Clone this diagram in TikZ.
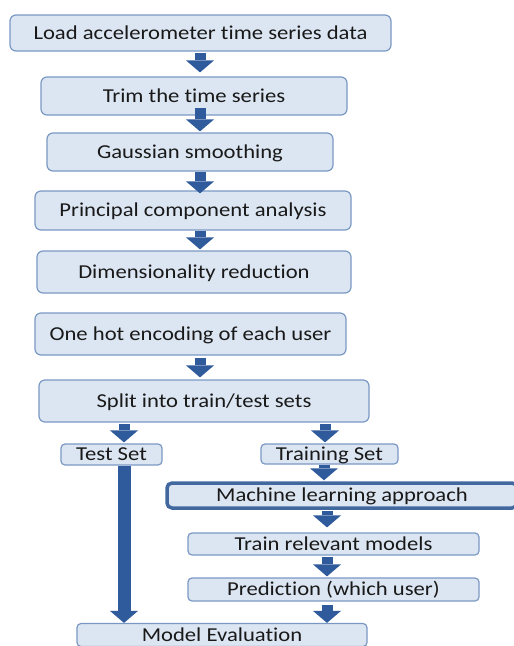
\documentclass[tikz,border=0pt]{standalone}
\usepackage{fontspec}
\setmainfont{Carlito}[FakeStretch=1.15, RawFeature={-liga;-clig;-calt;-dlig}]
\usetikzlibrary{arrows.meta,calc}
\definecolor{boxfill}{HTML}{DCE6F2}
\definecolor{boxline}{HTML}{7A98C4}
\definecolor{flowblue}{HTML}{2F5A9B}
\definecolor{mlline}{HTML}{41699F}
\begin{document}
\begin{tikzpicture}[x=1pt,y=-1pt,
  box/.style={draw=boxline, line width=1.2pt, fill=boxfill, rounded corners=6pt,
    inner sep=0pt, font=\fontsize{19.7}{22}\selectfont, text=black!90,
    text height=12.7pt, text depth=0pt},
  smallbox/.style={box, rounded corners=4pt},
  flow/.style={draw=flowblue, line width=11pt,
    -{Triangle[width=28pt,length=12pt,line width=0pt]}}]
\clip (0,0) rectangle (514,646);

% pipeline boxes
\node[box, minimum width=381pt, minimum height=36pt] (load)  at (200.5,33)  {Load accelerometer time series data};
\node[box, minimum width=306pt, minimum height=38pt] (trim)  at (194,96)    {Trim the time series};
\node[box, minimum width=286pt, minimum height=38pt] (gauss) at (190,152)   {Gaussian smoothing};
\node[box, minimum width=316pt, minimum height=39pt] (pca)   at (193,210.5) {Principal component analysis};
\node[box, minimum width=314pt, minimum height=42pt] (dim)   at (194,272)   {Dimensionality reduction};
\node[box, minimum width=311pt, minimum height=42pt] (onehot) at (190.5,334) {One hot encoding of each user};
\node[box, minimum width=330pt, minimum height=42pt] (split) at (204,401)   {Split into train/test sets};

\node[smallbox, minimum width=101pt, minimum height=21pt] (test)  at (111.5,454.5) {Test Set};
\node[smallbox, minimum width=137pt, minimum height=20pt] (train) at (329.5,454)   {Training Set};
\node[box, draw=mlline, line width=3.5pt, rounded corners=5pt,
      minimum width=350pt, minimum height=25pt] (ml) at (342,495.5) {Machine learning approach};
\node[smallbox, minimum width=291pt, minimum height=22pt] (models) at (333.5,544)   {Train relevant models};
\node[smallbox, minimum width=291pt, minimum height=23pt] (pred)   at (333.5,589.5) {Prediction (which user)};
\node[smallbox, minimum width=290pt, minimum height=23pt] (eval)   at (222,635)     {Model Evaluation};

% columns of the block arrows
\coordinate (xa) at (200,0);
\coordinate (xt) at (124,0);
\coordinate (xr) at (325,0);
\coordinate (xm) at (324,0);
\coordinate (xp) at (327,0);

\draw[flow] ($(xa |- load.south)+(0,1)$)   -- ($(xa |- trim.north)+(0,-4)$);
\draw[flow] ($(xa |- trim.south)+(0,-8)$)  -- ($(xa |- gauss.north)+(0,-1)$);
\draw[flow] ($(xa |- gauss.south)+(0,0)$)  -- ($(xa |- pca.north)+(0,3)$);
\draw[flow] ($(xa |- pca.south)+(0,0)$)    -- ($(xa |- dim.north)+(0,-1)$);
\draw[flow] ($(xa |- onehot.south)+(0,2)$) -- ($(xa |- split.north)+(0,-2)$);
\draw[flow] ($(xt |- split.south)+(0,1)$)  -- ($(xt |- test.north)+(0,-1)$);
\draw[flow] ($(xr |- split.south)+(0,1)$)  -- ($(xr |- train.north)+(0,-1)$);
\draw[flow, line width=13pt] (xt |- test.south) -- ($(xt |- eval.north)+(0,0)$);
\draw[flow] (xm |- train.south)            -- ($(xm |- ml.north)+(0,-1)$);
\draw[flow] ($(xp |- ml.south)+(0,1)$)     -- ($(xp |- models.north)+(0,-5)$);
\draw[flow] ($(xp |- models.south)+(0,1)$) -- ($(xp |- pred.north)+(0,-1)$);
\draw[flow] ($(xp |- pred.south)+(0,3)$)   -- ($(xp |- eval.north)+(0,0)$);
\end{tikzpicture}
\end{document}
